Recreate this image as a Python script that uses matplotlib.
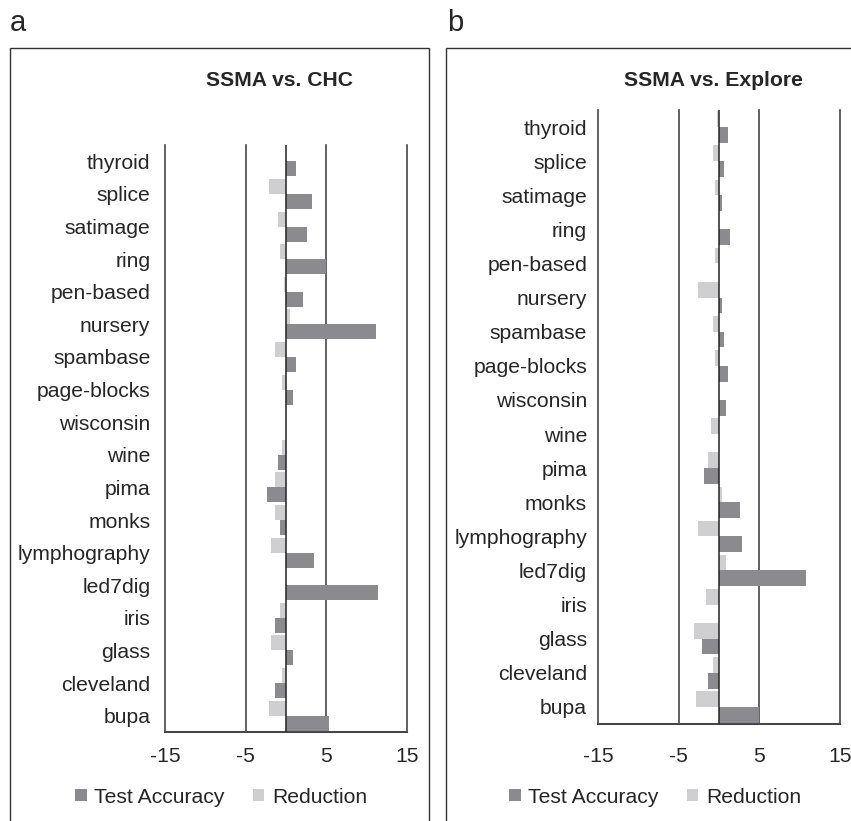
# -*- coding: utf-8 -*-
""" SSMA vs. CHC / SSMA vs. Explore difference bars """
import numpy as np
import matplotlib
matplotlib.use("Agg")
import matplotlib.pyplot as plt
from matplotlib.patches import Patch, Rectangle

# -----------------------------------------------------------------------------
# Data (top to bottom as drawn)
# -----------------------------------------------------------------------------
datasets = ['thyroid', 'splice', 'satimage', 'ring', 'pen-based', 'nursery',
            'spambase', 'page-blocks', 'wisconsin', 'wine', 'pima', 'monks',
            'lymphography', 'led7dig', 'iris', 'glass', 'cleveland', 'bupa']

chc_accuracy = [1.3, 3.2, 2.65, 5.0, 2.15, 11.2, 1.3, 0.85, 0.0, -1.0, -2.35,
                -0.75, 3.45, 11.4, -1.35, 0.85, -1.35, 5.3]
chc_reduction = [0.0, -2.1, -1.0, -0.75, -0.25, 0.55, -1.35, -0.5, 0.0, -0.5,
                 -1.35, -1.35, -1.85, 0.0, -0.75, -1.85, -0.5, -2.1]

explore_accuracy = [1.1, 0.6, 0.35, 1.33, 0.0, 0.35, 0.6, 1.1, 0.85, 0.0,
                    -1.8, 2.65, 2.9, 10.75, 0.0, -2.05, -1.33, 4.95]
explore_reduction = [-0.25, -0.73, -0.48, 0.0, -0.48, -2.55, -0.73, -0.48, 0.0,
                     -0.97, -1.33, 0.35, -2.55, 0.85, -1.57, -3.15, -0.73, -2.9]

xticks = [-15, -5, 5, 15]
series_names = ['Test Accuracy', 'Reduction']

# -----------------------------------------------------------------------------
# Style
# -----------------------------------------------------------------------------
W, H = 851, 821
DARK = '#8b8b8f'
LIGHT = '#cfcfd1'
GRID = '#474747'
TEXT = '#262626'
FS = 15.2

plt.rcParams['font.family'] = ['Liberation Sans', 'DejaVu Sans']
plt.rcParams['text.color'] = TEXT


def fx(px):
    return px / W


def fy(py):
    return 1 - py / H


def drawPanel(fig, rect, accuracy, reduction, xpad, ypad):
    """ One horizontal bar panel. """
    ax = fig.add_axes(rect)
    pos = np.arange(len(datasets))
    h = 0.46
    ax.barh(pos + h / 2, accuracy, height=h, color=DARK, zorder=3)
    ax.barh(pos - h / 2, reduction, height=h, color=LIGHT, zorder=3)
    ax.set_ylim(len(datasets) - 0.5, -0.5)
    ax.set_xlim(-15, 15)
    ax.set_xticks(xticks)
    ax.set_xticklabels([str(t) for t in xticks])
    ax.set_yticks(pos)
    ax.set_yticklabels(datasets)
    for t in xticks:
        ax.axvline(t, color=GRID, lw=1.2, zorder=1, clip_on=False)
    ax.axvline(0, color='#222222', lw=1.1, zorder=4)
    for s in ['top', 'left', 'right']:
        ax.spines[s].set_visible(False)
    ax.spines['bottom'].set_color(GRID)
    ax.spines['bottom'].set_linewidth(1.5)
    ax.tick_params(axis='x', length=0, pad=xpad, labelsize=FS, colors=TEXT)
    ax.tick_params(axis='y', length=0, pad=ypad, labelsize=FS, colors=TEXT)
    return ax


def drawLegend(fig, cx, cy):
    handles = [Patch(facecolor=DARK, edgecolor='none'),
               Patch(facecolor=LIGHT, edgecolor='none')]
    fig.legend(handles, series_names, loc='center', bbox_to_anchor=(cx, cy),
               ncol=2, frameon=False, fontsize=FS, handlelength=0.55,
               handleheight=0.55, handletextpad=0.35, columnspacing=1.35)


# -----------------------------------------------------------------------------
# main
# -----------------------------------------------------------------------------
if __name__ == "__main__":
    fig = plt.figure(figsize=(W / 100, H / 100), dpi=100)

    # outer frames
    fig.patches.append(Rectangle((fx(10), -0.05), fx(419), fy(48) + 0.05,
                                 transform=fig.transFigure, fill=False,
                                 ec='#333333', lw=1.0))
    fig.patches.append(Rectangle((fx(446), -0.05), fx(417), fy(48) + 0.05,
                                 transform=fig.transFigure, fill=False,
                                 ec='#333333', lw=1.0))

    drawPanel(fig, [fx(165), fy(732), fx(242), fy(145) - fy(732)],
              chc_accuracy, chc_reduction, 11, 10.5)
    drawPanel(fig, [fx(598), fy(724), fx(242), fy(110) - fy(724)],
              explore_accuracy, explore_reduction, 16.5, 7.8)

    fig.text(fx(280), fy(80), 'SSMA vs. CHC', fontsize=FS, fontweight='bold',
             ha='center', va='center')
    fig.text(fx(713), fy(80), 'SSMA vs. Explore', fontsize=FS,
             fontweight='bold', ha='center', va='center')

    fig.text(fx(10), fy(23), 'a', fontsize=21, ha='left', va='center')
    fig.text(fx(447), fy(23), 'b', fontsize=21, ha='left', va='center')

    drawLegend(fig, fx(221), fy(797))
    drawLegend(fig, fx(655), fy(797))

    plt.savefig('out.png', dpi=100)
